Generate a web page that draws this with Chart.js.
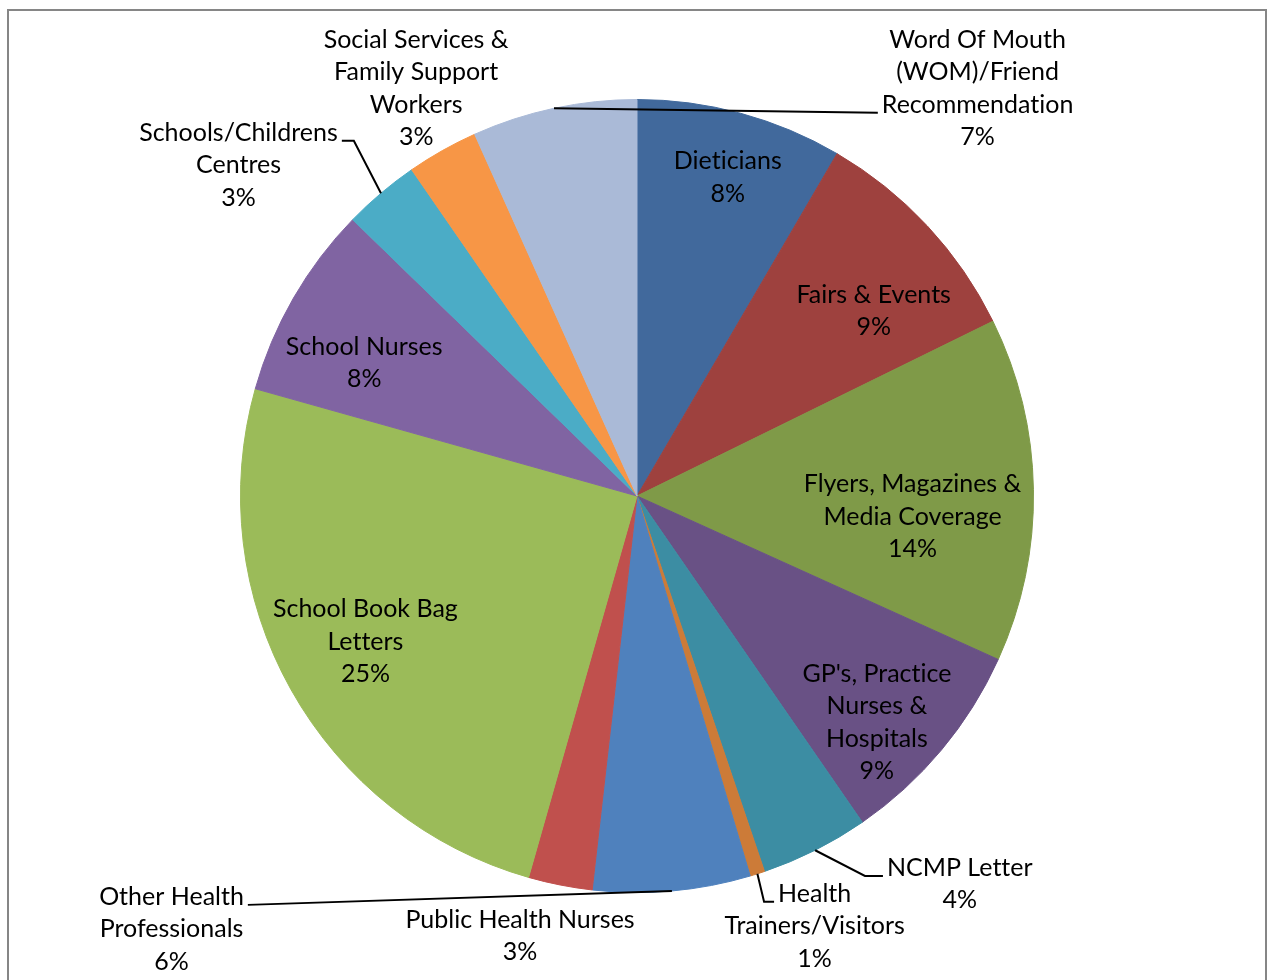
<!DOCTYPE html>
<html>
<head>
<meta charset="utf-8">
<title>Referral sources</title>
<script src="https://cdn.jsdelivr.net/npm/chart.js@4"></script>
<style>
  html, body { margin: 0; padding: 0; background: #fff; }
  #wrap { width: 1267px; height: 980px; }
</style>
</head>
<body>
<div id="wrap"><canvas id="myChart" width="1267" height="980"></canvas></div>
<script>
(function () {
  'use strict'

  // Where did people hear about the programme (share of responses, %)
  var sources = [
    ['Dieticians'],
    ['Fairs & Events'],
    ['Flyers, Magazines &', 'Media Coverage'],
    ["GP's, Practice", 'Nurses &', 'Hospitals'],
    ['NCMP Letter'],
    ['Health', 'Trainers/Visitors'],
    ['Other Health', 'Professionals'],
    ['Public Health Nurses'],
    ['School Book Bag', 'Letters'],
    ['School Nurses'],
    ['Schools/Childrens', 'Centres'],
    ['Social Services &', 'Family Support', 'Workers'],
    ['Word Of Mouth', '(WOM)/Friend', 'Recommendation']
  ]
  var shares = [8.4, 9.3, 14.0, 8.6, 4.4, 0.6, 6.4, 2.6, 24.9, 7.9, 3.1, 2.9, 6.7]

  var sliceColors = [
    '#41699C', '#9E413E', '#7F9A48', '#695185', '#3C8DA3', '#CC7B38',
    '#4F81BD', '#C0504D', '#9BBB59', '#8064A2', '#4BACC6', '#F79646', '#AABAD7'
  ]

  var FONT = '25px Lato, "Open Sans", sans-serif'
  var LINE_H = 32.5

  // label block centre relative to the pie centre, in units of the radius;
  // leader: which text line it hooks onto, which side, and the elbow length
  var labelPos = [
    { dx: 0.229, dy: -0.804 },
    { dx: 0.597, dy: -0.467 },
    { dx: 0.695, dy: 0.052 },
    { dx: 0.605, dy: 0.571 },
    { dx: 0.814, dy: 0.979, leader: { line: 0, side: 'left', tail: 18 } },
    { dx: 0.448, dy: 1.085, leader: { line: 0, side: 'left', tail: 10 } },
    { dx: -1.174, dy: 1.093, leader: { line: 0, side: 'right', tail: 0 } },
    { dx: -0.295, dy: 1.110 },
    { dx: -0.685, dy: 0.367 },
    { dx: -0.688, dy: -0.336 },
    { dx: -1.005, dy: -0.834, leader: { line: 0, side: 'right', tail: 12 } },
    { dx: -0.557, dy: -1.028 },
    { dx: 0.859, dy: -1.028, leader: { line: 2, side: 'left', tail: 0 } }
  ]

  var frame = {
    id: 'frame',
    beforeDraw: function (chart) {
      var c = chart.ctx
      c.save()
      c.strokeStyle = '#868686'
      c.lineWidth = 2
      c.strokeRect(8, 10, 1258, 1100)
      c.restore()
    }
  }

  var sliceLabels = {
    id: 'sliceLabels',
    afterDatasetsDraw: function (chart) {
      var c = chart.ctx
      var meta = chart.getDatasetMeta(0)
      var data = chart.data.datasets[0].data
      var total = data.reduce(function (a, b) { return a + b }, 0)
      c.save()
      c.font = FONT
      c.textRendering = 'optimizeSpeed' // no "ti" ligature
      c.fillStyle = '#000'
      c.textAlign = 'center'
      c.textBaseline = 'middle'
      meta.data.forEach(function (arc, i) {
        var p = labelPos[i]
        var R = arc.outerRadius
        var lx = arc.x + p.dx * R
        var ly = arc.y + p.dy * R
        var lines = chart.data.labels[i].concat([Math.round(data[i] / total * 100) + '%'])
        var top = ly - (lines.length - 1) / 2 * LINE_H
        lines.forEach(function (t, k) {
          c.fillText(t, lx, top + k * LINE_H)
        })

        if (p.leader) {
          var mid = (arc.startAngle + arc.endAngle) / 2
          var sx = arc.x + Math.cos(mid) * R
          var sy = arc.y + Math.sin(mid) * R
          var w = c.measureText(lines[p.leader.line]).width
          var ey = top + p.leader.line * LINE_H + 8
          var ex, bx
          if (p.leader.side === 'left') {
            ex = lx - w / 2 - 4
            bx = ex - p.leader.tail
          } else {
            ex = lx + w / 2 + 4
            bx = ex + p.leader.tail
          }
          c.beginPath()
          c.strokeStyle = '#000'
          c.lineWidth = 2
          c.moveTo(sx, sy)
          c.lineTo(bx, ey)
          c.lineTo(ex, ey)
          c.stroke()
        }
      })
      c.restore()
    }
  }

  var ctx = document.getElementById('myChart')
  var pieChart = new Chart(ctx, {
    type: 'pie',
    data: {
      labels: sources,
      datasets: [{
        data: shares,
        backgroundColor: sliceColors,
        borderColor: sliceColors,
        borderWidth: 1
      }]
    },
    options: {
      responsive: false,
      animation: false,
      layout: { padding: { top: 99, bottom: 87, left: 7, right: 0 } },
      plugins: {
        legend: { display: false },
        tooltip: { enabled: false }
      }
    },
    plugins: [frame, sliceLabels]
  })
})()
</script>
</body>
</html>
